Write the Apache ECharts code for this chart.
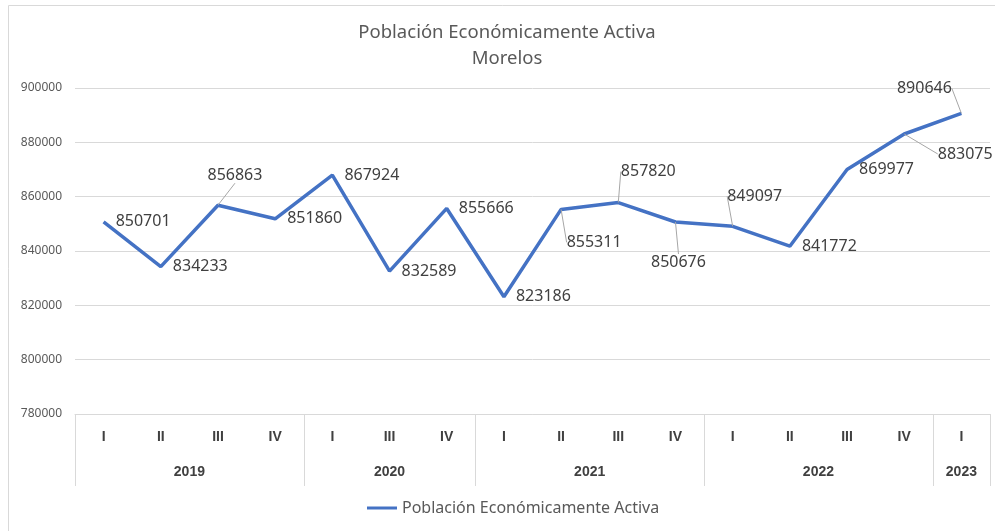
<!DOCTYPE html>
<html lang="es">
<head>
<meta charset="UTF-8">
<title>Población Económicamente Activa - Morelos</title>
<script src="https://cdn.jsdelivr.net/npm/echarts@6/dist/echarts.min.js"></script>
<style>
  html, body { margin: 0; padding: 0; background: #fff; }
  #chart { width: 995px; height: 531px; }
</style>
</head>
<body>
<div id="chart"></div>
<script>
// data
const quarters = ['I', 'II', 'III', 'IV', 'I', 'III', 'IV', 'I', 'II', 'III', 'IV', 'I', 'II', 'III', 'IV', 'I'];
const years = ['2019', '2020', '2021', '2022', '2023'];
const yearSizes = [4, 3, 4, 4, 1];
const pea = [850701, 834233, 856863, 851860, 867924, 832589, 855666, 823186,
             855311, 857820, 850676, 849097, 841772, 869977, 883075, 890646];

// label placement: null = plain label on the right,
// [dx, dy] = label centre moved away from the point, with a leader line
const labelMoves = [null, null, [17, -30], null, null, null, null, null,
                    [33, 33], [30, -31], [3, 40], [22, -30], null, null, [61, 20], [-37, -25]];

// group boundaries and centres for the year level
const bounds = [0];
yearSizes.forEach(n => bounds.push(bounds[bounds.length - 1] + n));
const centres = yearSizes.map((n, i) => bounds[i] + n / 2);

const chart = echarts.init(document.getElementById('chart'));

const boldFont = 'Liberation Sans';

const seriesData = pea.map((v, i) => ({
  value: v,
  labelLine: { show: !!labelMoves[i] }
}));

const option = {
  animation: false,
  textStyle: { fontFamily: 'Noto Sans' },
  graphic: [{
    type: 'rect',
    shape: { x: 8.5, y: 5.5, width: 1000, height: 600 },
    style: { fill: 'none', stroke: '#d9d9d9', lineWidth: 1 },
    silent: true
  }],
  title: {
    text: 'Población Económicamente Activa\nMorelos',
    left: 502,
    top: 15,
    textAlign: 'center',
    textStyle: { fontSize: 18.5, fontWeight: 'normal', color: '#595959', lineHeight: 26 }
  },
  legend: {
    bottom: 10,
    left: 362,
    icon: 'path://M0,0 L30,0 L30,3 L0,3 Z',
    itemWidth: 30,
    itemHeight: 3,
    itemGap: 4,
    textStyle: { fontSize: 16, color: '#595959' },
    data: ['Población Económicamente Activa']
  },
  grid: { left: 75, right: 5, top: 88, bottom: 117 },
  xAxis: [{
    type: 'category',
    data: quarters,
    axisLine: { lineStyle: { color: '#d9d9d9' } },
    axisTick: { show: false },
    axisLabel: { margin: 16, fontSize: 14, fontWeight: 'bold', color: '#404040', fontFamily: boldFont }
  }, {
    type: 'value',
    min: 0,
    max: quarters.length,
    position: 'bottom',
    axisLine: { show: false },
    splitLine: { show: false },
    axisTick: {
      show: true,
      customValues: bounds,
      length: 72,
      lineStyle: { color: '#d9d9d9' }
    },
    axisLabel: {
      customValues: centres,
      margin: 51,
      fontSize: 14,
      fontWeight: 'bold',
      color: '#404040',
      fontFamily: boldFont,
      formatter: v => years[centres.indexOf(v)] || ''
    }
  }],
  yAxis: {
    type: 'value',
    min: 780000,
    max: 900000,
    interval: 20000,
    axisLine: { show: false },
    axisTick: { show: false },
    axisLabel: { margin: 13, fontSize: 12, color: '#595959', formatter: v => String(v) },
    splitLine: { lineStyle: { color: '#d9d9d9' } }
  },
  series: [{
    name: 'Población Económicamente Activa',
    type: 'line',
    xAxisIndex: 0,
    data: seriesData,
    symbol: 'circle',
    symbolSize: 0.1,
    showSymbol: true,
    lineStyle: { color: '#4472C4', width: 3.5 },
    itemStyle: { color: '#4472C4' },
    label: {
      show: true,
      position: 'right',
      distance: 12,
      fontSize: 16,
      color: '#404040'
    },
    labelLine: { show: true, lineStyle: { color: '#a6a6a6', width: 1 } },
    labelLayout: p => {
      const m = labelMoves[p.dataIndex];
      if (!m) return {};
      const cx = p.rect.x + p.rect.width / 2;
      const cy = p.rect.y + p.rect.height / 2;
      return { x: cx + m[0], y: cy + m[1], align: 'center', verticalAlign: 'middle' };
    }
  }]
};

chart.setOption(option);
</script>
</body>
</html>
